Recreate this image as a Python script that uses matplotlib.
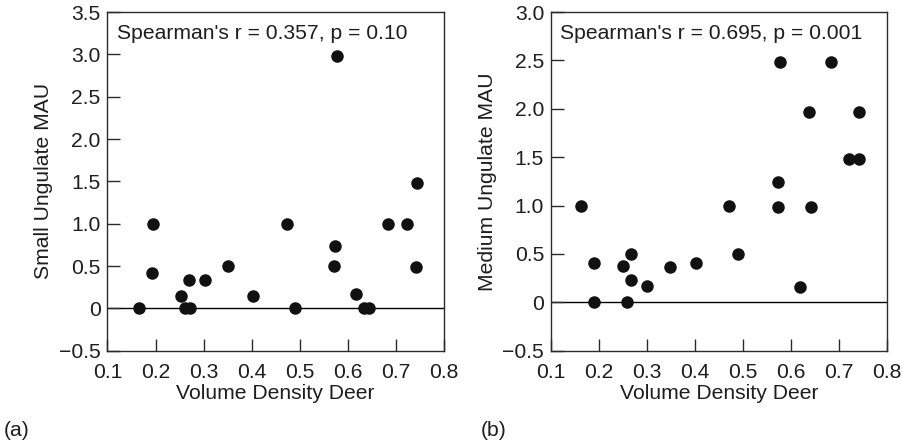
import matplotlib
matplotlib.use("Agg")
import matplotlib.pyplot as plt

plt.rcParams['font.family'] = ['Liberation Sans', 'DejaVu Sans']

# Panel (a): Small ungulate MAU vs volume density of deer
x_a = [0.165, 0.195, 0.193, 0.252, 0.261, 0.272, 0.270, 0.303, 0.351, 0.403, 0.473,
       0.491, 0.578, 0.573, 0.572, 0.617, 0.633, 0.643, 0.683, 0.722, 0.744, 0.742]
y_a = [0.0, 1.0, 0.42, 0.145, 0.0, 0.0, 0.33, 0.34, 0.5, 0.15, 1.0,
       0.0, 2.98, 0.74, 0.5, 0.17, 0.0, 0.0, 1.0, 1.0, 1.48, 0.49]

# Panel (b): Medium ungulate MAU vs volume density of deer
x_b = [0.163, 0.190, 0.189, 0.249, 0.267, 0.267, 0.258, 0.299, 0.348, 0.401, 0.470,
       0.489, 0.577, 0.573, 0.573, 0.637, 0.642, 0.618, 0.683, 0.742, 0.720, 0.742]
y_b = [1.0, 0.41, 0.0, 0.375, 0.5, 0.23, 0.0, 0.17, 0.37, 0.41, 1.0,
       0.5, 2.48, 1.24, 0.99, 1.97, 0.99, 0.16, 2.48, 1.97, 1.48, 1.48]

x_ticks = [0.1, 0.2, 0.3, 0.4, 0.5, 0.6, 0.7, 0.8]
x_ticklabels = ["0.1", "0.2", "0.3", "0.4", "0.5", "0.6", "0.7", "0.8"]
y_ticks_a = [-0.5, 0, 0.5, 1.0, 1.5, 2.0, 2.5, 3.0, 3.5]
y_ticklabels_a = ["\u22120.5", "0", "0.5", "1.0", "1.5", "2.0", "2.5", "3.0", "3.5"]
y_ticks_b = [-0.5, 0, 0.5, 1.0, 1.5, 2.0, 2.5, 3.0]
y_ticklabels_b = ["\u22120.5", "0", "0.5", "1.0", "1.5", "2.0", "2.5", "3.0"]

x_label = "Volume Density Deer"
y_label_a = "Small Ungulate MAU"
y_label_b = "Medium Ungulate MAU"
stat_a = "Spearman's r = 0.357, p = 0.10"
stat_b = "Spearman's r = 0.695, p = 0.001"

W, H = 903, 443
fig = plt.figure(figsize=(W / 100, H / 100), dpi=100)
fs = 15.2
frame_color = "#2b2b2b"
text_color = "#1e1e1e"


def make_panel(rect, xs, ys, yticks, yticklabels, ymax, ylabel, stat, tag, tag_x):
    ax = fig.add_axes(rect)
    ax.axhline(0, color="black", lw=1.0, zorder=1)
    ax.plot(xs, ys, linestyle="none", marker="o", ms=8.0, color="#111111",
            markeredgecolor="#111111", zorder=3)
    ax.set_xlim(0.1, 0.8)
    ax.set_ylim(-0.5, ymax)
    ax.set_xticks(x_ticks)
    ax.set_xticklabels(x_ticklabels)
    ax.set_yticks(yticks)
    ax.set_yticklabels(yticklabels)
    ax.tick_params(direction="in", length=9, width=1.0, color=frame_color,
                   labelsize=fs, pad=5, labelcolor=text_color)
    ax.tick_params(axis="x", pad=8.5)
    for s in ax.spines.values():
        s.set_color(frame_color)
        s.set_linewidth(1.0)
    ax.set_xlabel(x_label, fontsize=fs, color=text_color, labelpad=2)
    ax.set_ylabel(ylabel, fontsize=fs, color=text_color)
    ax.yaxis.set_label_coords(-0.162, 0.5)
    ax.text(0.027, 0.937, stat, transform=ax.transAxes, fontsize=fs,
            va="center", ha="left", color=text_color)
    fig.text(tag_x / W, 1 - 430 / H, tag, fontsize=fs, va="center", ha="left",
             color=text_color)
    return ax


left_a, right_a = 107.5, 444.0
left_b, right_b = 551.0, 887.3
top, bottom = 12.0, 350.7
make_panel([left_a / W, 1 - bottom / H, (right_a - left_a) / W, (bottom - top) / H],
           x_a, y_a, y_ticks_a, y_ticklabels_a, 3.5, y_label_a, stat_a, "(a)", 4)
make_panel([left_b / W, 1 - bottom / H, (right_b - left_b) / W, (bottom - top) / H],
           x_b, y_b, y_ticks_b, y_ticklabels_b, 3.0, y_label_b, stat_b, "(b)", 481)

fig.savefig("out.png", dpi=100)
